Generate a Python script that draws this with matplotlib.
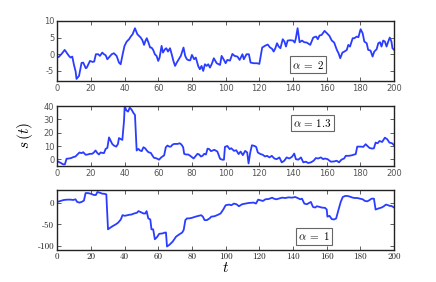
import numpy as np
import matplotlib.pyplot as plt

plt.rcParams['mathtext.fontset'] = 'cm'
plt.rcParams['axes.unicode_minus'] = False

# alpha = 2
t_a = [0, 1, 3, 4.5, 7, 8, 9, 10, 11, 11.5, 13, 14.5, 15.5, 17, 17.6, 19.5, 21, 22, 23, 24.4,
       25.4, 26.8, 27.8, 28.8, 29.8, 31, 32.4, 33.7, 35.3, 36.7, 37.7, 38.9, 40, 41.3, 42.7, 43.7,
       44.8, 46.2, 47.6, 48.6, 49.6, 50.6, 51.6, 52.4, 53.2, 54.2, 55.2, 56, 57, 58, 59, 60, 60.8,
       62, 62.8, 64, 64.8, 65.8, 67, 68, 69, 70, 71, 72.2, 73.4, 75, 76, 77, 78, 79, 80, 81.3, 82.3,
       83.7, 84.7, 85.7, 86.7, 87.7, 88.7, 89.7, 90.7, 91.7, 93, 94.7, 96.7, 97.6, 99, 100, 101,
       102.6, 104, 105.3, 107, 108.3, 110, 110.8, 112.4, 113.8, 114.8, 116.7, 118.7, 120, 121.7,
       122.6, 123.6, 125, 126.2, 127.6, 128.5, 129.5, 130.5, 131.5, 132.5, 133.9, 134.9, 135.8,
       136.8, 138.4, 140, 141, 141.7, 142.7, 143.9, 145.3, 146.6, 148.2, 150.2, 152, 153.7, 154.7,
       155.7, 157, 158.7, 160.1, 161.6, 163, 164.4, 166, 167, 168, 169.3, 170.5, 171.9, 172.8,
       173.8, 175.4, 176.4, 177.8, 178.8, 180.1, 181.3, 182.3, 183.7, 184.6, 186, 187.2, 188.2,
       189.6, 190.6, 191.6, 192.5, 193.5, 194.5, 195.5, 196.5, 197.4, 198.4, 199, 200]
s_a = [-0.9, -0.8, 0.3, 1.3, -0.5, -1.0, -0.7, -3.2, -5.2, -7.4, -6.5, -2.6, -2.5, -4.2, -4.0,
       -2.0, -2.3, -2.2, 0.0, 0.0, -0.5, 0.5, 0.0, -0.3, -1.5, -0.8, 0.0, 0.3, -0.5, -2.5, -3.0,
       0.0, 2.5, 3.8, 4.5, 5.3, 6.0, 7.8, 6.0, 5.5, 5.0, 4.2, 2.8, 4.0, 4.8, 3.5, 2.0, 2.0, 1.3,
       0.0, -0.5, -2.0, -1.0, 2.5, 0.5, 1.5, 1.8, 0.8, 1.8, 0.0, -2.0, -3.5, -2.5, -1.5, -0.5,
       2.0, -0.5, -1.5, -1.8, -1.8, -0.2, -1.5, -1.0, -3.5, -4.5, -3.5, -5.0, -3.0, -3.5, -3.0,
       -4.0, -3.0, -1.2, -2.7, -3.2, -0.5, -1.7, -2.7, -1.7, -1.9, 0.1, -0.5, -0.7, -1.7, 0.0,
       -1.5, 0.0, 0.0, -2.5, -2.7, -2.7, -2.9, 2.0, 2.3, 2.6, 2.9, 2.1, 1.6, 0.8, 1.8, 3.3, 2.3,
       1.8, 4.5, 3.8, 2.3, 4.1, 4.2, 4.1, 3.5, 4.8, 7.8, 3.6, 4.1, 3.6, 3.5, 2.8, 5.0, 5.3, 4.5,
       5.6, 5.8, 7.0, 6.3, 5.5, 4.1, 3.5, 1.3, 0.3, -1.2, 0.5, 0.8, 1.3, 2.8, 2.3, 4.8, 4.8, 5.3,
       5.1, 7.5, 6.3, 3.8, 3.3, 1.3, 1.1, -0.7, 0.8, 1.5, 3.3, 3.6, 2.3, 4.1, 3.8, 2.3, 3.8, 5.0,
       3.8, 1.8, 1.3]

# alpha = 1.3
t_b = [0, 2, 3.6, 4.6, 5.6, 7, 8.3, 9.5, 10.9, 11.9, 13.3, 14.5, 15.5, 16.9, 18.2, 19.4, 20.8,
       21.8, 22.8, 23.8, 24.8, 25.8, 26.8, 27.8, 28.8, 29.8, 30.8, 31.8, 32.7, 33.7, 35.1, 36.1,
       36.7, 37.7, 38.7, 39.7, 40.1, 41.1, 42.1, 43.1, 44.2, 45.2, 46.2, 47.2, 48.2, 49.2, 50.2,
       51.2, 52.2, 53.2, 54.2, 55.6, 56.5, 57.5, 58.5, 59.5, 60.5, 61.5, 62.5, 63.5, 64.5, 65.5,
       66.5, 67.5, 68.5, 69.5, 71.4, 72.8, 73.8, 74.8, 75.4, 76.4, 77.8, 79, 80, 81, 82, 83.3,
       84.3, 85.3, 86.3, 87.3, 88.3, 89.3, 90.3, 91.3, 93.3, 95.1, 96.7, 98, 99, 99.6, 101, 102.4,
       103.3, 105, 106.3, 107.7, 108.9, 110.2, 111.6, 112.8, 113.6, 114.6, 115.6, 117.1, 118.1,
       119.1, 120.7, 122, 123.4, 124.6, 126, 127.4, 128.9, 130.3, 131.9, 133.3, 134.8, 136.2,
       137.8, 139.4, 140.7, 141.7, 143.1, 144.7, 146.1, 147.6, 149, 150.6, 152.2, 153.5, 154.9,
       156.5, 157.9, 158.9, 160.5, 162.4, 164.4, 165.9, 167.3, 168.7, 170.3, 171.3, 173.2, 175.2,
       177.2, 178.1, 180.1, 181.7, 183.1, 184.1, 185.4, 187, 188, 189, 190.2, 191.3, 192.9,
       194.5, 195.9, 197.2, 198.8, 200]
s_b = [-1.2, -2.5, -3.7, -3.7, 0.5, 0.7, 1.0, 1.7, 2.2, 3.5, 5.2, 4.7, 5.4, 3.5, 3.7, 4.2, 4.2,
       5.2, 6.7, 4.9, 3.7, 5.2, 4.9, 4.7, 7.9, 8.6, 16.5, 14.0, 11.6, 10.4, 9.6, 11.6, 16.0, 15.3,
       14.6, 28.9, 40.0, 36.8, 35.8, 38.8, 37.3, 35.0, 33.3, 6.7, 7.9, 6.7, 6.2, 9.1, 8.4, 6.7, 5.4,
       4.9, 3.0, 1.2, 1.0, 0.5, -0.2, 1.2, 2.2, 3.0, 9.1, 10.4, 9.6, 9.6, 11.1, 11.6, 11.6, 12.1,
       11.1, 9.1, 4.2, 3.7, 3.7, 2.7, 1.7, 0.7, 2.2, 4.2, 3.7, 2.2, 2.7, 4.2, 3.7, 8.1, 7.7, 6.2,
       7.2, 5.9, 0.5, -0.2, -0.2, 9.4, 10.1, 7.7, 8.4, 6.4, 6.9, 4.0, 5.9, 3.2, 6.4, 5.2, -3.0,
       5.2, 10.6, 10.1, 9.4, 5.2, 4.0, 3.5, 2.2, 2.7, 1.5, 2.7, 0.7, 0.2, 1.5, -2.2, -1.0, 1.5,
       0.7, 2.0, 4.4, 0.2, -0.2, 1.5, -2.2, -1.7, -2.7, -2.2, -1.0, 1.0, 0.7, 1.5, 0.2, 0.7, 0.2,
       -1.7, -1.5, -1.0, -2.2, -0.2, 0.7, 2.7, 2.7, 3.2, 4.0, 9.6, 9.6, 9.4, 11.4, 10.1, 8.6, 8.1,
       8.4, 12.6, 12.1, 13.8, 13.1, 16.3, 15.1, 12.6, 12.1, 10.6]

# alpha = 1
t_c = [0, 2, 4, 6, 8, 9.5, 10.9, 11.9, 13.3, 14.5, 15.9, 16.9, 18.3, 19.9, 21.9, 23, 23.9, 25.4,
       26.8, 27.8, 29.2, 30.2, 31.8, 33.4, 34.8, 36.2, 37.8, 38.8, 40.2, 41.7, 42.7, 44.1, 45.7,
       47.3, 48.3, 49.7, 51.3, 52.3, 53.1, 54.1, 55.3, 56, 57, 58, 59.2, 60.6, 62.6, 64, 64.6,
       65.2, 66.6, 68.6, 70.6, 72.6, 74.2, 75.1, 76.1, 77.1, 78.5, 80.1, 82.1, 84.1, 85.5, 86.5,
       87.5, 88.9, 90.5, 91.5, 93.4, 95.4, 97, 98.6, 100, 102, 103.4, 104.9, 106.4, 107.9, 109.8,
       111.8, 113.8, 116.7, 118, 119.3, 120.7, 122.1, 123.6, 125.6, 127.6, 128.6, 130.1, 131.5,
       133.5, 135.4, 137.4, 139.3, 141.3, 142.7, 144.3, 145.3, 146.7, 148.2, 149.6, 150.6, 151.8,
       153.1, 154.1, 155.7, 157.1, 159, 160, 160.4, 161.6, 163, 164.4, 165.6, 166.9, 168.3,
       169.5, 170.9, 172.4, 173.8, 175.4, 176.8, 178.1, 179.7, 181.3, 182.7, 184.1, 185.2,
       186.6, 188, 189, 190.6, 192.5, 193.9, 195.1, 196.5, 197.4, 198.4, 200]
s_c = [2.3, 4.6, 6.9, 7.7, 7.7, 6.9, 8.5, 2.3, 0.8, 2.3, 5.4, 23.0, 23.0, 21.5, 18.5, 18.5, 25.4,
       23.8, 21.5, 21.5, 20.0, -61.5, -57.0, -53.0, -50.0, -46.0, -38.5, -28.5, -30.0, -28.5,
       -27.7, -27.0, -24.6, -23.0, -19.0, -21.5, -24.6, -24.6, -19.0, -36.0, -38.5, -61.5, -61.5,
       -84.6, -80.0, -72.0, -71.0, -69.0, -69.0, -101.5, -97.7, -90.0, -78.5, -73.0, -69.0,
       -63.0, -40.0, -36.0, -36.0, -34.6, -32.0, -30.0, -28.5, -32.0, -40.0, -40.0, -36.0,
       -32.0, -31.0, -27.7, -24.6, -15.4, -5.4, -3.8, -5.4, -1.5, -3.0, -7.7, -3.0, -1.5, 0.0,
       0.8, -1.5, 7.7, 6.2, 4.6, 8.5, 9.2, 12.3, 10.0, 8.5, 10.0, 12.3, 11.5, 13.0, 12.3, 13.8,
       11.5, 8.5, 10.0, -1.5, -3.0, 0.0, 2.3, -9.2, -10.8, -7.7, -9.2, -10.8, -11.5, -15.4,
       -32.0, -30.0, -37.7, -38.5, -36.0, -17.0, 2.3, 13.8, 16.2, 16.2, 14.6, 12.3, 11.5, 11.5,
       10.0, 8.5, 4.6, 3.8, 6.2, 10.0, 10.0, -15.4, -13.0, -10.8, -7.7, -3.8, -5.4, -7.0, -7.0,
       -10.8]

labels = [r'$\alpha\;=\;2$', r'$\alpha\,=\,1.3$', r'$\alpha\;=\;1$']
ylims = [(-8, 10), (-5, 40), (-110, 30)]
yticks = [[-5, 0, 5, 10], [0, 10, 20, 30, 40], [-100, -50, 0]]
xticks = list(range(0, 201, 20))
label_pos = [(0.745, 0.27), (0.757, 0.72), (0.763, 0.23)]

blue = '#2a3cff'
fig = plt.figure(figsize=(4.36, 2.82), dpi=100)
boxes = [(0.131, 0.713), (0.131, 0.411), (0.131, 0.113)]
series = [(t_a, s_a), (t_b, s_b), (t_c, s_c)]

for i, ((t, s), (x0, y0)) in enumerate(zip(series, boxes)):
    ax = fig.add_axes([x0, y0, 0.773, 0.213])
    ax.plot(t, s, color=blue, lw=1.3)
    ax.set_xlim(0, 200)
    ax.set_ylim(*ylims[i])
    ax.set_xticks(xticks)
    ax.set_yticks(yticks[i])
    for sp in ax.spines.values():
        sp.set_linewidth(1.0)
        sp.set_color('#222222')
    ax.tick_params(direction='in', length=3, width=0.6, top=True, right=True,
                   color='#444444', pad=2)
    if i < 2:
        ax.tick_params(labelsize=6, labelcolor='#555555')
    else:
        for lab in ax.get_xticklabels() + ax.get_yticklabels():
            lab.set_family('cmr10')
            lab.set_fontsize(6.5)
            lab.set_color('#222222')
    ax.text(label_pos[i][0], label_pos[i][1], labels[i], transform=ax.transAxes,
            ha='center', va='center', fontsize=8,
            bbox=dict(boxstyle='square,pad=0.2', fc='white', ec='#666666', lw=0.8))

fig.text(25 / 436, 1 - 135 / 282, r'$s\,(t)$', rotation=90, ha='center', va='center',
         fontsize=11)
fig.text(226 / 436, 1 - 268 / 282, r'$t$', ha='center', va='center', fontsize=11)

fig.savefig('out.png', dpi=100)
